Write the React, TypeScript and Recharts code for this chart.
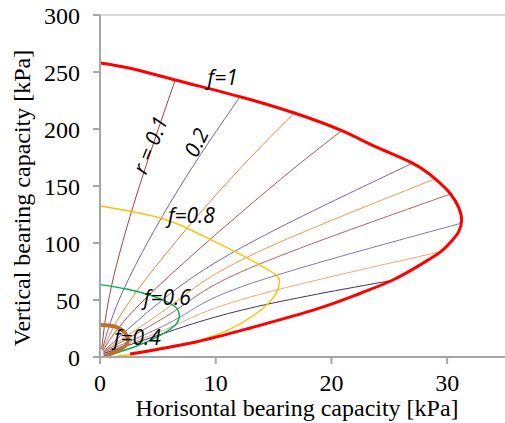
import { LineChart, Line, XAxis, YAxis, ReferenceLine, ReferenceDot, Label } from 'recharts';

type Pt = { x: number; y: number };
const pts = (a: number[][]): Pt[] => a.map(([x, y]) => ({ x, y }));

const xTicks = [0, 10, 20, 30];
const yTicks = [0, 50, 100, 150, 200, 250, 300];

// failure envelopes, f = 1 / 0.8 / 0.6 / 0.4
const envF10 = pts([
  [0, 258], [2.6, 253.3], [6.5, 243], [12.1, 228.3], [16.8, 214], [20.9, 198.5], [23.8, 184.5],
  [27, 170], [29, 156], [30.3, 143], [31, 131], [31.25, 120], [31, 110], [30.45, 102.5],
  [29.45, 92.4], [27.9, 82.2], [25.4, 68], [22.4, 55.5], [18.7, 42], [13, 25.5], [8.2, 13], [2.6, 2.6],
]);
const envF08 = pts([
  [0, 132.5], [5.3, 121.7], [9.05, 105.5], [12.5, 88], [14.8, 74.8], [15.5, 67.5], [15.2, 55.8],
  [13.9, 41.2], [11.1, 23.7], [7.6, 12], [3.0, 2.6], [1.5, 1.2],
]);
const envF06 = pts([
  [0, 63.5], [2.4, 59.4], [4.7, 52.9], [6.5, 44], [6.85, 35.4], [6.5, 28], [5, 17.8], [3, 9], [1.3, 3.2], [0.6, 1],
]);
const envF04 = pts([
  [0, 28], [1.3, 26.6], [2.2, 20.7], [2.4, 13.4], [1.9, 7.6], [0.7, 1.8], [0.3, 0.5],
]);

// r lines, r = 0.1 ... 1
const line01 = pts([[0.15, 7], [1.0, 62.5], [3.3, 146.5], [6.5, 243]]);
const line02 = pts([[0.2, 6.5], [2.1, 60.5], [6.74, 146.5], [12.1, 228.3]]);
const line03 = pts([[0.2, 6], [3.2, 58], [10.4, 146.5], [16.8, 214]]);
const line04 = pts([[0.25, 5.5], [4.3, 55], [14.5, 146.5], [20.9, 198.5]]);
const line05 = pts([[0.3, 5], [5.5, 51], [12.9, 99.7], [27, 170]]);
const line06 = pts([[0.3, 5], [6.3, 46.5], [12.9, 88.5], [28.9, 156]]);
const line07 = pts([[0.3, 4.5], [6.7, 42], [12.9, 77.8], [30.3, 143]]);
const line08 = pts([[0.3, 4], [6.75, 34], [12.9, 64], [31.2, 117.3]]);
const line09 = pts([[0.3, 3.5], [6.3, 27], [12.9, 52.4], [29.45, 92.4]]);
const line10 = pts([[0.3, 3], [5.3, 20], [12.9, 42.7], [25.4, 67.5]]);

const rLines = [line01, line02, line03, line04, line05, line06, line07, line08, line09, line10];
const rColors = ['#A4423E', '#7A62AC', '#E8883C', '#B5504D', '#7F66AA', '#F3984C', '#C0605E', '#8A76B6', '#F8A474', '#3E3264'];

const notes = [
  { text: 'f=1', x: 10.6, y: 238.6, rot: 0 },
  { text: 'f=0.8', x: 7.9, y: 117.5, rot: 0 },
  { text: 'f=0.6', x: 5.82, y: 45.6, rot: 0 },
  { text: 'f=0.4', x: 3.23, y: 10.5, rot: 0 },
  { text: 'r = 0.1', x: 4.31, y: 186, rot: -68 },
  { text: '0.2', x: 8.28, y: 188.2, rot: -64 },
];

const serif = '"Liberation Serif", "Times New Roman", Times, "DejaVu Serif", serif';
const axisGray = '#A6A6A6';

const Annot = (props: any) => {
  const { viewBox, text, rot } = props;
  const x = viewBox.x + (viewBox.width || 0) / 2;
  const y = viewBox.y + (viewBox.height || 0) / 2;
  return (
    <text
      x={x}
      y={y}
      textAnchor="middle"
      dominantBaseline={rot ? 'central' : 'auto'}
      transform={rot ? `rotate(${rot} ${x} ${y})` : undefined}
      style={{ fontFamily: "'Open Sans', sans-serif", fontStyle: 'italic', fontSize: 21 }}
      fill="#000"
    >
      {text}
    </text>
  );
};

export default function App() {
  return (
    <div style={{ position: 'absolute', left: 0, top: 0, width: 505, height: 423, background: '#fff', fontFamily: serif }}>
      <LineChart width={505} height={423} margin={{ top: 15, right: 0, bottom: 0, left: 0 }} style={{ fontFamily: serif }}>
        <ReferenceLine y={300} stroke="#D9D9D9" strokeWidth={2} />
        <XAxis
          type="number"
          dataKey="x"
          domain={[0, 35]}
          ticks={xTicks}
          height={66}
          tickSize={7}
          tickMargin={10}
          axisLine={{ stroke: axisGray, strokeWidth: 2 }}
          tickLine={{ stroke: axisGray, strokeWidth: 2 }}
          tick={{ fontFamily: serif, fontSize: 24, fill: '#000' }}
          allowDataOverflow
        >
          <Label
            content={() => (
              <text x={297} y={416} textAnchor="middle" fontFamily={serif} fontSize={24} fill="#000">
                Horisontal bearing capacity [kPa]
              </text>
            )}
          />
        </XAxis>
        <YAxis
          type="number"
          dataKey="y"
          domain={[0, 300]}
          ticks={yTicks}
          width={100}
          tickSize={7}
          tickMargin={13}
          axisLine={{ stroke: axisGray, strokeWidth: 2 }}
          tickLine={{ stroke: axisGray, strokeWidth: 2 }}
          tick={{ fontFamily: serif, fontSize: 24, fill: '#000' }}
          allowDataOverflow
        >
          <Label
            content={() => (
              <text
                x={30}
                y={198}
                transform="rotate(-90 30 198)"
                textAnchor="middle"
                fontFamily={serif}
                fontSize={24}
                fill="#000"
              >
                Vertical bearing capacity [kPa]
              </text>
            )}
          />
        </YAxis>
        {rLines.map((d, i) => (
          <Line
            key={'r' + i}
            data={d}
            dataKey="y"
            type="natural"
            stroke={rColors[i]}
            strokeWidth={1}
            dot={false}
            activeDot={false}
            isAnimationActive={false}
          />
        ))}
        <Line data={envF08} dataKey="y" type="natural" stroke="#FFC000" strokeWidth={1.4} dot={false} activeDot={false} isAnimationActive={false} />
        <Line data={envF06} dataKey="y" type="natural" stroke="#00B050" strokeWidth={1.4} dot={false} activeDot={false} isAnimationActive={false} />
        <Line data={envF04} dataKey="y" type="natural" stroke="#B8742F" strokeWidth={4} dot={false} activeDot={false} isAnimationActive={false} />
        <Line data={envF10} dataKey="y" type="natural" stroke="#FF0000" strokeWidth={3} dot={false} activeDot={false} isAnimationActive={false} />
        {notes.map((n) => (
          <ReferenceDot
            key={n.text}
            x={n.x}
            y={n.y}
            r={1}
            fill="none"
            stroke="none"
            label={<Annot text={n.text} rot={n.rot} />}
          />
        ))}
      </LineChart>
    </div>
  );
}
